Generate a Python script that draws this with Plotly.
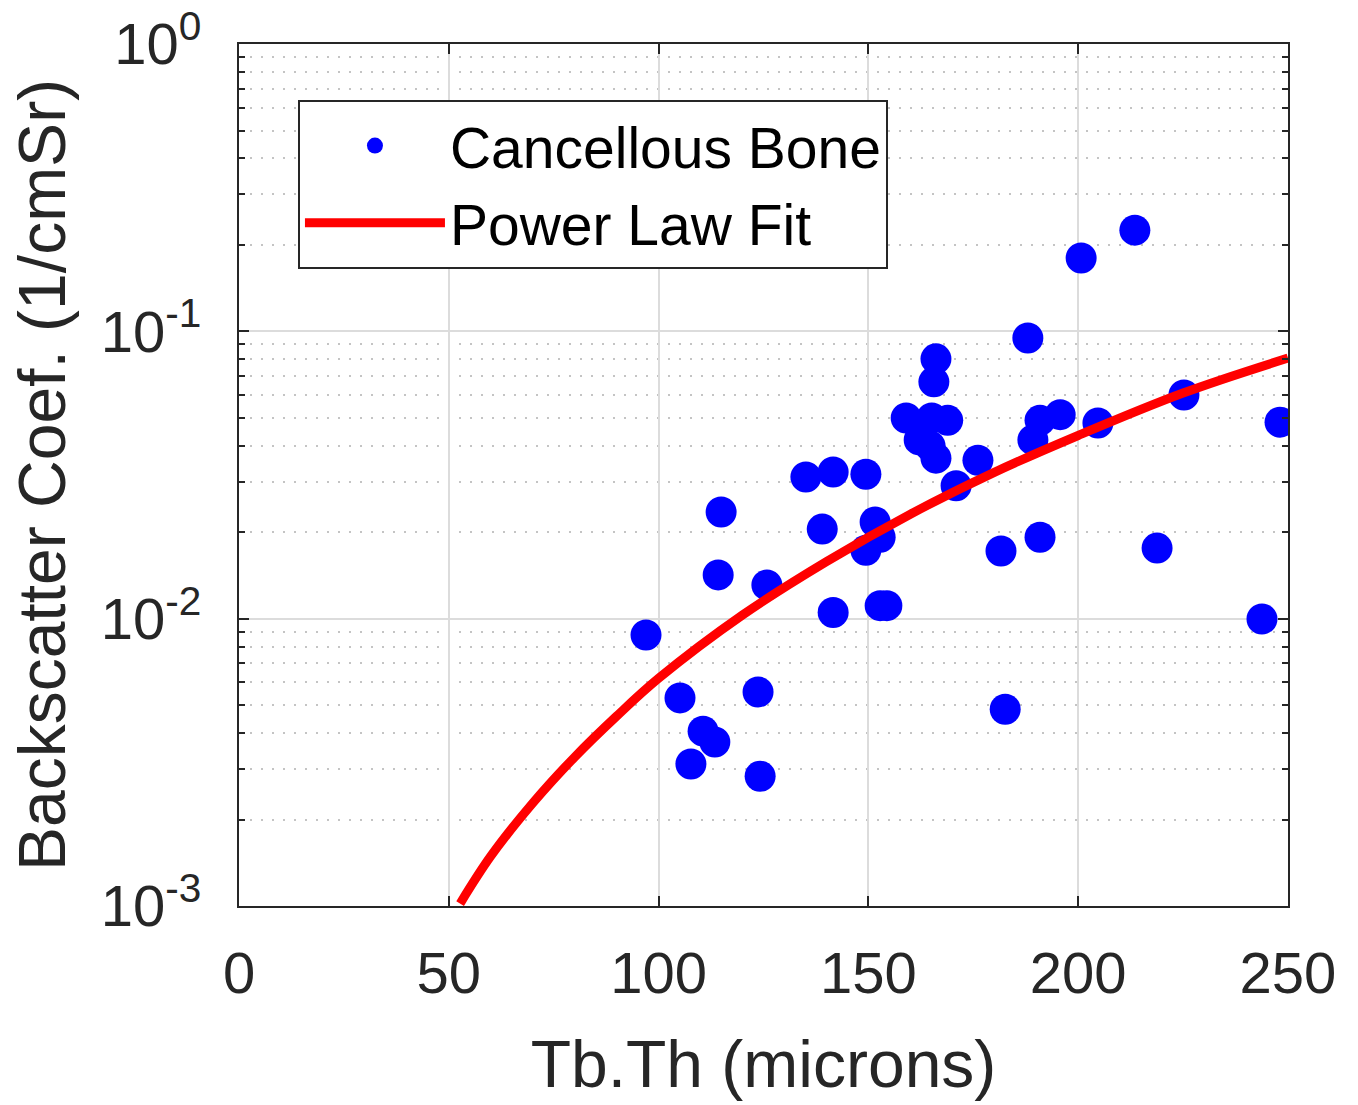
import plotly.graph_objects as go

# ---- data ----
bone_x = [97.0, 105.1, 107.7, 110.6, 113.4, 114.2, 114.9, 123.7, 124.2, 125.8,
          135.1, 139.0, 141.6, 141.6, 149.4, 151.6, 149.4, 152.8, 152.8, 154.4,
          159.0, 162.1, 164.7, 166.1, 165.6, 166.1, 165.1, 168.9, 170.9, 176.1,
          181.6, 182.6, 188.0, 189.2, 190.9, 190.9, 195.7, 200.7, 204.7, 213.5,
          218.8, 225.2, 243.8, 248.1]
bone_y = [0.00877, 0.0053, 0.00312, 0.00406, 0.00372, 0.0142, 0.0235, 0.00556, 0.00283, 0.0131,
          0.0311, 0.0205, 0.0324, 0.0105, 0.0318, 0.0217, 0.0173, 0.0192, 0.0111, 0.0111,
          0.0499, 0.0419, 0.0399, 0.0362, 0.0667, 0.0802, 0.0499, 0.0490, 0.0290, 0.0356,
          0.0172, 0.00484, 0.0948, 0.0419, 0.0490, 0.0192, 0.0513, 0.180, 0.0480, 0.225,
          0.0176, 0.060, 0.00997, 0.0483]

fit_x = [52.7, 60, 70, 80, 90, 100, 120, 140, 160, 180, 200, 225, 250]
fit_y = [0.00102, 0.00149, 0.00228, 0.0033, 0.00458, 0.0062, 0.0103, 0.0158, 0.0231,
         0.0323, 0.0434, 0.0610, 0.0807]

x_ticks = [0, 50, 100, 150, 200, 250]
y_ticks = [1e-3, 1e-2, 1e-1, 1]
y_ticktext = ["10<sup>-3</sup>", "10<sup>-2</sup>", "10<sup>-1</sup>", "10<sup>0</sup>"]
y_minor = [k * 10.0 ** e for e in (-3, -2, -1) for k in range(2, 10)]

FONT = "Liberation Sans, Arial, sans-serif"
TXT = "#262626"

fig = go.Figure()
fig.add_trace(go.Scatter(
    x=bone_x, y=bone_y, mode="markers", name="Cancellous Bone",
    marker=dict(color="#0000FF", size=31, line=dict(width=0)),
))
fig.add_trace(go.Scatter(
    x=fit_x, y=fit_y, mode="lines", name="Power Law Fit",
    line=dict(color="#FF0000", width=9, shape="spline", smoothing=1.0),
))

fig.update_layout(
    width=1358, height=1105,
    margin=dict(l=239, r=70, t=44, b=199, autoexpand=False),
    paper_bgcolor="white", plot_bgcolor="white",
    font=dict(family=FONT, color=TXT, size=58),
    showlegend=True,
    legend=dict(
        x=0.0562, y=0.935, xanchor="left", yanchor="top",
        bgcolor="white", bordercolor=TXT, borderwidth=2,
        font=dict(family=FONT, size=57, color="black"),
        itemwidth=140, tracegroupgap=0,
    ),
    xaxis=dict(
        range=[0, 250], tickmode="array", tickvals=x_ticks,
        ticks="inside", ticklen=10, tickwidth=2, tickcolor=TXT,
        showline=True, linecolor=TXT, linewidth=2, mirror="allticks",
        showgrid=True, gridcolor="#dcdcdc", gridwidth=1.5,
        zeroline=False,
        tickfont=dict(size=58, color=TXT, family=FONT),
        ticklabelstandoff=15,
        title=dict(text="Tb.Th (microns)", font=dict(size=66, color=TXT, family=FONT), standoff=37),
    ),
    yaxis=dict(
        type="log", range=[-3, 0], tickmode="array",
        tickvals=y_ticks, ticktext=y_ticktext,
        ticks="inside", ticklen=10, tickwidth=2, tickcolor=TXT,
        showline=True, linecolor=TXT, linewidth=2, mirror="allticks",
        showgrid=True, gridcolor="#dcdcdc", gridwidth=1.5,
        zeroline=False,
        tickfont=dict(size=58, color=TXT, family=FONT),
        ticklabelstandoff=24,
        minor=dict(tickmode="array", tickvals=y_minor, ticks="inside", ticklen=6,
                   tickwidth=2, tickcolor=TXT, showgrid=True, gridcolor="#c4c4c4",
                   griddash="2px,9px", gridwidth=2),
        title=dict(text="Backscatter Coef. (1/cmSr)", font=dict(size=66, color=TXT, family=FONT), standoff=14),
    ),
)

fig.write_html("out.html")
